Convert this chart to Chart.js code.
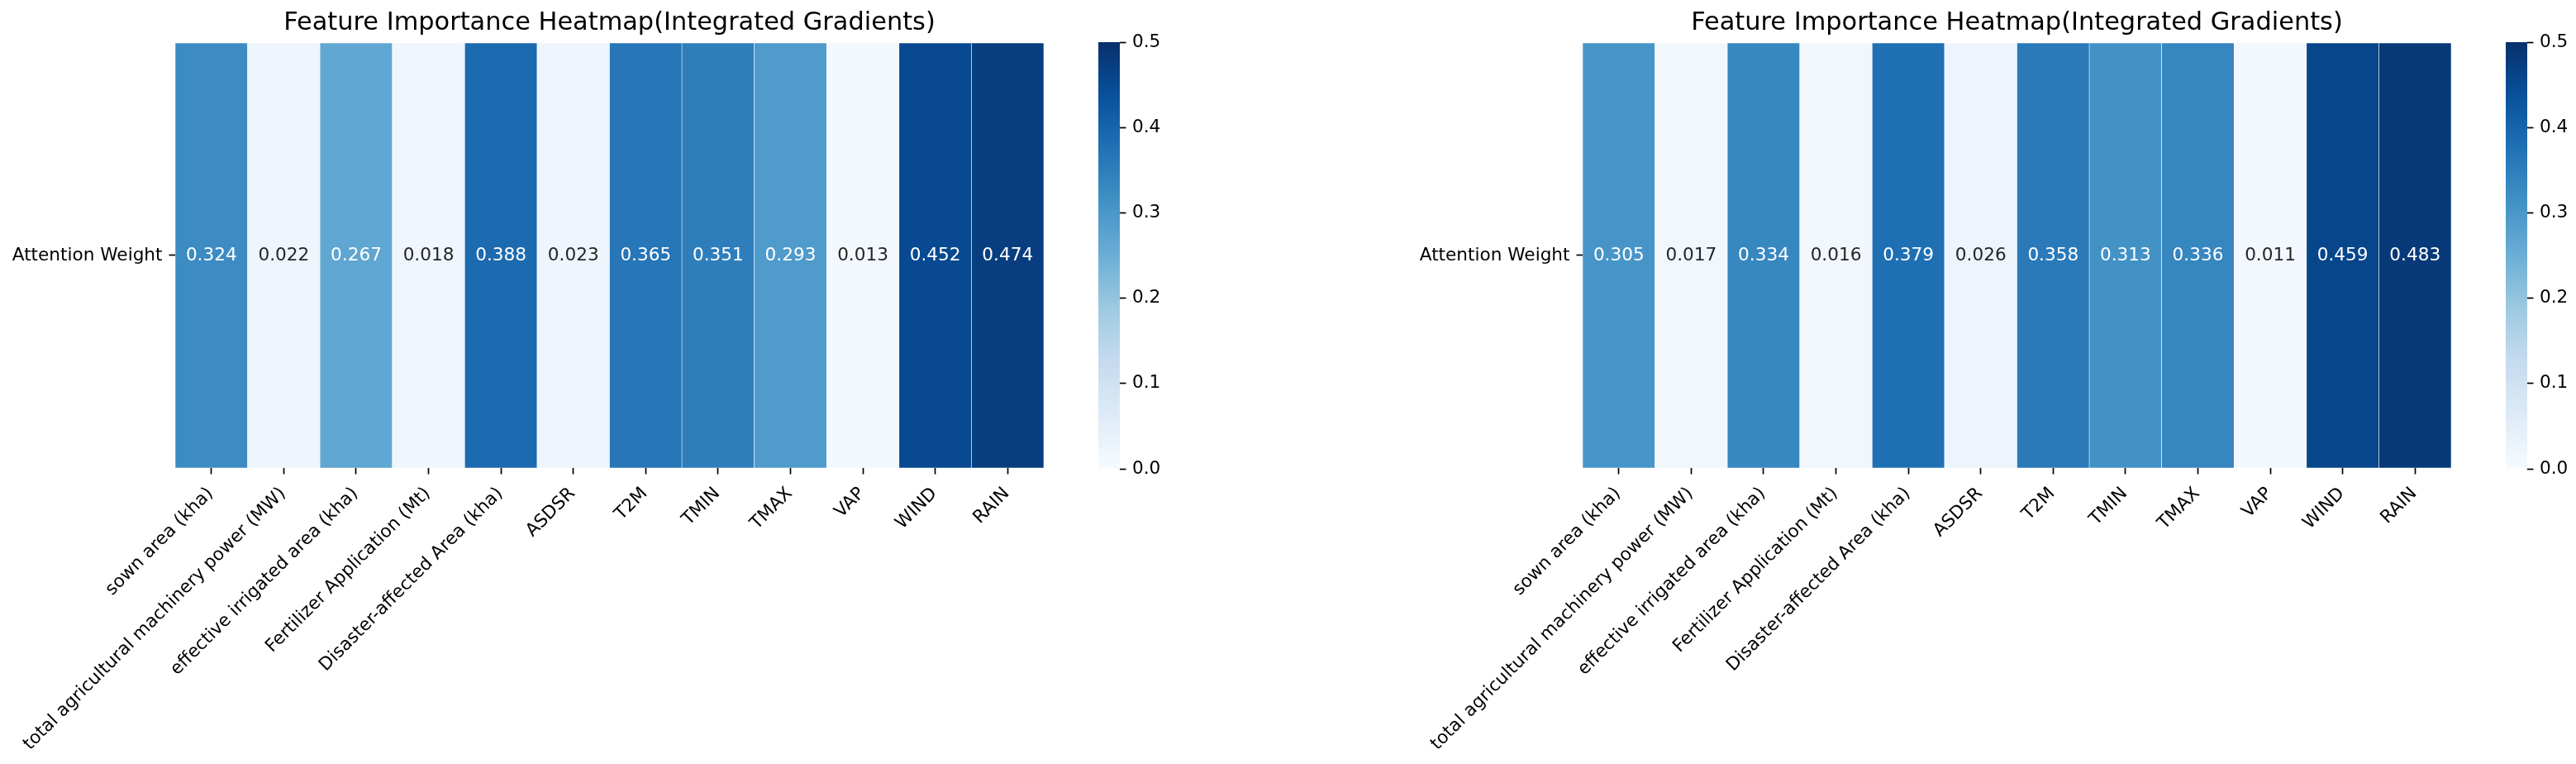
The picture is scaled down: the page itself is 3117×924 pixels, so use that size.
<!DOCTYPE html>
<html><head><meta charset="utf-8">
<script src="https://cdn.jsdelivr.net/npm/chart.js@4.4.1/dist/chart.umd.min.js"></script>
<style>
html,body{margin:0;padding:0;background:#fff;width:3117px;height:924px;overflow:hidden}
canvas{position:absolute;top:0}
</style></head><body>
<canvas id="h1" width="1330" height="924" style="left:0px;width:1330px;height:924px"></canvas>
<canvas id="c1" width="117" height="924" style="left:1300px;width:117px;height:924px"></canvas>
<canvas id="h2" width="1330" height="924" style="left:1703px;width:1330px;height:924px"></canvas>
<canvas id="c2" width="114" height="924" style="left:3003px;width:114px;height:924px"></canvas>
<script>
const features = ['sown area (kha)', 'total agricultural machinery power (MW)', 'effective irrigated area (kha)',
  'Fertilizer Application (Mt)', 'Disaster-affected Area (kha)', 'ASDSR', 'T2M', 'TMIN', 'TMAX', 'VAP', 'WIND', 'RAIN'];
const rowLabels = ['Attention Weight'];
const valuesLeft  = [0.324, 0.022, 0.267, 0.018, 0.388, 0.023, 0.365, 0.351, 0.293, 0.013, 0.452, 0.474];
const valuesRight = [0.305, 0.017, 0.334, 0.016, 0.379, 0.026, 0.358, 0.313, 0.336, 0.011, 0.459, 0.483];
const titleText = 'Feature Importance Heatmap(Integrated Gradients)';
const colorbarTicks = [0.0, 0.1, 0.2, 0.3, 0.4, 0.5];
const vmin = 0, vmax = 0.5;
const bluesStops = ['#f7fbff', '#deebf7', '#c6dbef', '#9ecae1', '#6baed6', '#4292c6', '#2171b5', '#08519c', '#08306b'];

Chart.defaults.font.family = "'DejaVu Sans', sans-serif";
Chart.defaults.color = '#000';
Chart.defaults.animation = false;

const FS = 21.6;

function hexToRgb(h) { return [1, 3, 5].map(i => parseInt(h.substr(i, 2), 16) / 255); }
const stopRgb = bluesStops.map(hexToRgb);
function cmap(v) {
  let t = (v - vmin) / (vmax - vmin);
  t = Math.max(0, Math.min(1, t));
  const n = stopRgb.length - 1;
  const i = Math.min(Math.floor(t * n), n - 1);
  const f = t * n - i;
  return stopRgb[i].map((c, k) => c + (stopRgb[i + 1][k] - c) * f);
}
function rgbStr(rgb) { return 'rgb(' + rgb.map(c => Math.round(c * 255)).join(',') + ')'; }
function lum(rgb) {
  const l = rgb.map(c => c <= 0.03928 ? c / 12.92 : Math.pow((c + 0.055) / 1.055, 2.4));
  return 0.2126 * l[0] + 0.7152 * l[1] + 0.0722 * l[2];
}

const annotate = {
  id: 'annot',
  afterDatasetsDraw(chart) {
    const ctx = chart.ctx;
    const ds = chart.data.datasets[0];
    const meta = chart.getDatasetMeta(0);
    ctx.save();
    ctx.font = FS + "px 'DejaVu Sans'";
    ctx.textAlign = 'center';
    ctx.textBaseline = 'middle';
    meta.data.forEach((el, i) => {
      const v = ds.heat[i];
      ctx.fillStyle = lum(cmap(v)) > 0.408 ? '#262626' : '#ffffff';
      ctx.fillText(v.toFixed(3), el.x, (el.y + el.base) / 2);
    });
    ctx.restore();
  }
};

function heatmap(id, values) {
  new Chart(document.getElementById(id), {
    type: 'bar',
    data: {
      labels: features,
      datasets: [{
        data: values.map(() => [0, 1]),
        heat: values,
        backgroundColor: values.map(v => rgbStr(cmap(v))),
        borderColor: '#ffffff',
        borderWidth: { left: 0.6, right: 0.6, top: 0.6, bottom: 0.6 },
        borderSkipped: false,
        categoryPercentage: 1.0,
        barPercentage: 1.0
      }]
    },
    options: {
      responsive: false,
      layout: { padding: { left: 0, right: 67, top: 0, bottom: 0 } },
      plugins: {
        legend: { display: false },
        tooltip: { enabled: false },
        title: {
          display: true, text: titleText, fullSize: false, color: '#000',
          font: { size: 30.4, weight: 'normal', lineHeight: 1.2 },
          padding: { top: 10, bottom: 5.5 }
        }
      },
      scales: {
        x: {
          type: 'category',
          afterFit: s => { s.height = 358; },
          border: { display: false },
          grid: { display: true, drawOnChartArea: false, drawTicks: true, offset: false,
                  tickLength: 7.5, tickWidth: 1.7, tickColor: '#000' },
          ticks: { autoSkip: false, minRotation: 45, maxRotation: 45, padding: 11, labelOffset: -1,
                   color: '#000', font: { size: FS } }
        },
        y: {
          type: 'linear', min: 0, max: 1,
          afterFit: s => { s.width = 212; },
          afterBuildTicks: s => { s.ticks = [{ value: 0.5 }]; },
          border: { display: false },
          grid: { display: true, drawOnChartArea: false, drawTicks: true,
                  tickLength: 7.5, tickWidth: 1.7, tickColor: '#000' },
          ticks: { padding: 8, color: '#000', font: { size: FS }, callback: () => rowLabels[0] }
        }
      }
    },
    plugins: [annotate]
  });
}

function colorbar(id) {
  const canvas = document.getElementById(id);
  new Chart(canvas, {
    type: 'bar',
    data: {
      labels: [''],
      datasets: [{
        data: [[vmin, vmax]],
        backgroundColor: (c) => {
          const a = c.chart.chartArea;
          if (!a) return bluesStops[0];
          const g = c.chart.ctx.createLinearGradient(0, a.bottom, 0, a.top);
          bluesStops.forEach((col, i) => g.addColorStop(i / (bluesStops.length - 1), col));
          return g;
        },
        borderWidth: 0,
        categoryPercentage: 1.0,
        barPercentage: 1.0
      }]
    },
    options: {
      responsive: false,
      layout: { padding: { left: 29, right: 0, top: 51, bottom: 357 } },
      plugins: { legend: { display: false }, tooltip: { enabled: false } },
      scales: {
        x: { display: false },
        y: {
          type: 'linear', position: 'right', min: vmin, max: vmax,
          afterFit: s => { s.width = canvas.width - 55; },
          afterBuildTicks: s => { s.ticks = colorbarTicks.map(v => ({ value: v })); },
          border: { display: false },
          grid: { display: true, drawOnChartArea: false, drawTicks: true,
                  tickLength: 7.5, tickWidth: 1.7, tickColor: '#000' },
          ticks: { padding: 7.5, color: '#000', font: { size: FS }, callback: v => Number(v).toFixed(1) }
        }
      }
    }
  });
}

heatmap('h1', valuesLeft);
colorbar('c1');
heatmap('h2', valuesRight);
colorbar('c2');
</script>
</body></html>
